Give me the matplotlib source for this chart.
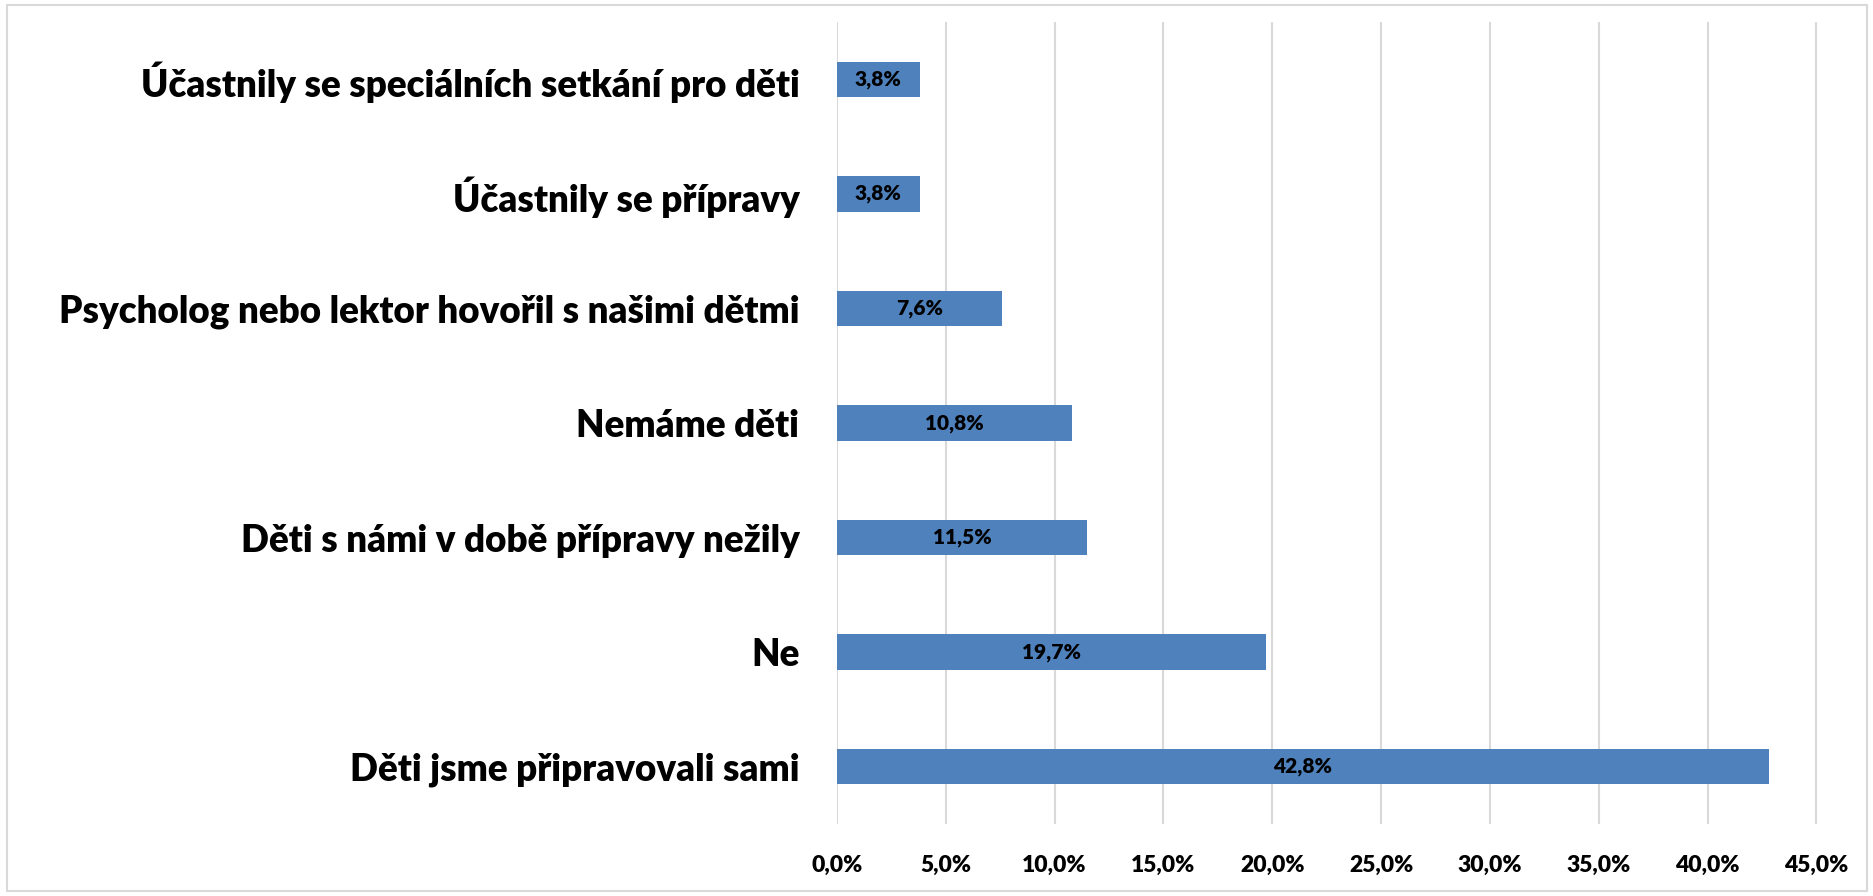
import matplotlib.pyplot as plt
from matplotlib.patches import Rectangle

# data (top to bottom as in the chart)
labels = ["Účastnily se speciálních setkání pro děti",
          "Účastnily se přípravy",
          "Psycholog nebo lektor hovořil s našimi dětmi",
          "Nemáme děti",
          "Děti s námi v době přípravy nežily",
          "Ne",
          "Děti jsme připravovali sami"]
values = [3.8, 3.8, 7.6, 10.8, 11.5, 19.7, 42.8]
ticks = [0, 5, 10, 15, 20, 25, 30, 35, 40, 45]

plt.rcParams['font.family'] = ['Lato', 'DejaVu Sans']

fig = plt.figure(figsize=(18.74, 8.96), dpi=100)
ax = fig.add_axes([0.4466, 0.0804, 0.5262, 0.895])

ypos = list(range(len(labels)))
bars = ax.barh(ypos, values, height=0.31, color='#4F81BD', zorder=3)
for b, v in zip(bars, values):
    ax.text(v / 2, b.get_y() + b.get_height() / 2, f"{v:.1f}%".replace('.', ','),
            ha='center', va='center', fontsize=15, fontweight='heavy', color='black', zorder=4)

ax.set_ylim(len(labels) - 0.5, -0.5)
ax.set_yticks(ypos)
ax.set_yticklabels(labels, fontsize=26.5, fontweight='heavy')
ax.tick_params(axis='y', length=0, pad=27)

ax.set_xlim(0, 45.3)
ax.set_xticks(ticks)
ax.set_xticklabels([f"{t:.1f}%".replace('.', ',') for t in ticks], fontsize=16.5, fontweight='heavy')
ax.tick_params(axis='x', length=0, pad=22)
ax.grid(axis='x', color='#d9d9d9', linewidth=1.5, zorder=0)

for s in ax.spines.values():
    s.set_visible(False)

# outer chart frame
fig.patches.append(Rectangle((0.0035, 0.006), 0.993, 0.988, transform=fig.transFigure,
                             fill=False, edgecolor='#d9d9d9', linewidth=1.5))

fig.savefig('out.png', dpi=100)
